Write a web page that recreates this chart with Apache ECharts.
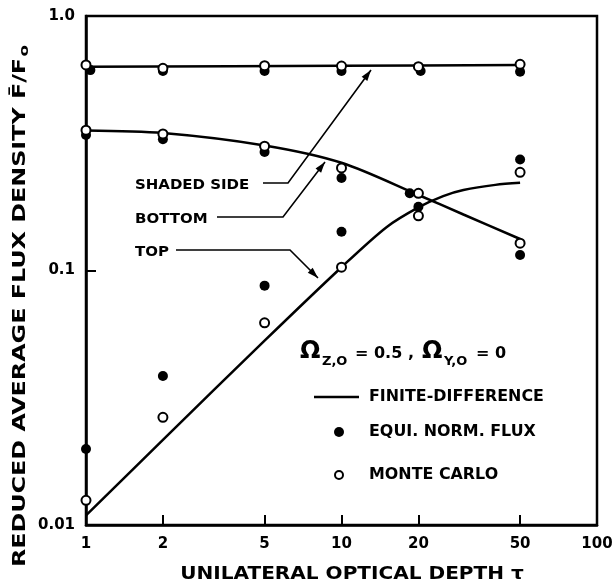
<!DOCTYPE html>
<html>
<head>
<meta charset="utf-8">
<script src="https://cdn.jsdelivr.net/npm/echarts@6/dist/echarts.min.js"></script>
<style>
  html, body { margin: 0; padding: 0; background: #fff; }
  #chart { width: 616px; height: 588px; }
</style>
</head>
<body>
<div id="chart"></div>
<script>
// axis ticks
const tauTicks = [1, 2, 5, 10, 20, 50, 100]
const tauInnerTicks = [2, 5, 10, 20, 50]
const fluxTicks = [0.01, 0.1, 1]
const fluxTickLabels = ["0.01", "0.1", "1.0"]

// finite-difference curves [tau, F/F0]
const shadedFD = [[1, 0.632], [10, 0.637], [50, 0.642]]
const bottomFD = [[1, 0.355], [2, 0.347], [5, 0.31], [10, 0.265], [20, 0.198], [30, 0.166], [50, 0.133]]
const topFD = [[1, 0.0109], [2, 0.0216], [5, 0.053], [10, 0.103], [15, 0.148], [20, 0.177],
  [25, 0.196], [30, 0.207], [40, 0.217], [50, 0.221]]

// equi. norm. flux (filled)
const equiShaded = [[1.04, 0.613], [2, 0.608], [5, 0.608], [10, 0.608], [20.4, 0.608], [50, 0.604]]
const equiBottom = [[1, 0.341], [2, 0.328], [5, 0.292], [10, 0.231], [18.5, 0.201], [50, 0.115]]
const equiTop = [[1, 0.0199], [2, 0.0385], [5, 0.0872], [10, 0.142], [20, 0.178], [50, 0.273]]

// monte carlo (open)
const mcShaded = [[1, 0.642], [2, 0.623], [5, 0.638], [10, 0.636], [20, 0.632], [50, 0.646]]
const mcBottom = [[1, 0.356], [2, 0.344], [5, 0.308], [10, 0.253], [20, 0.201], [50, 0.128]]
const mcTop = [[1, 0.0125], [2, 0.0265], [5, 0.0623], [10, 0.103], [20, 0.164], [50, 0.243]]

const FONT = '"DejaVu Sans", sans-serif'

const chart = echarts.init(document.getElementById("chart"))

function lineSeries(data) {
  return {
    type: "line",
    data: data,
    smooth: 0.3,
    showSymbol: false,
    symbol: "none",
    clip: false,
    z: 2,
    lineStyle: { color: "#000", width: 2.5 }
  }
}

function dotSeries(data, open) {
  return {
    type: "scatter",
    data: data,
    symbol: "circle",
    symbolSize: open ? 9 : 10,
    clip: false,
    z: open ? 4 : 3,
    itemStyle: open
      ? { color: "#fff", borderColor: "#000", borderWidth: 2, opacity: 1 }
      : { color: "#000", opacity: 1 }
  }
}

function label(text, x, y, size, sx, align) {
  return {
    type: "text",
    x: x,
    y: y,
    scaleX: sx || 1,
    style: {
      text: text,
      font: "bold " + size + "px " + FONT,
      fill: "#000",
      align: align || "left",
      verticalAlign: "middle"
    }
  }
}

function leader(points) {
  const n = points.length
  const [x0, y0] = points[n - 2]
  const [x1, y1] = points[n - 1]
  const L = Math.hypot(x1 - x0, y1 - y0)
  const ux = (x1 - x0) / L, uy = (y1 - y0) / L
  const len = 11, hw = 3.5
  const bx = x1 - ux * len, by = y1 - uy * len
  return [
    { type: "polyline", shape: { points: points }, style: { stroke: "#000", lineWidth: 1.6, fill: null } },
    {
      type: "polygon",
      shape: { points: [[x1, y1], [bx - uy * hw, by + ux * hw], [bx + uy * hw, by - ux * hw]] },
      style: { fill: "#000" }
    }
  ]
}

const graphics = [
  // axis titles
  {
    type: "text",
    x: 21, y: 306, rotation: Math.PI / 2,
    scaleX: 1.4,
    style: {
      text: "{a|REDUCED AVERAGE FLUX DENSITY F\u0304/F}{s|o}",
      fill: "#000",
      align: "center",
      verticalAlign: "middle",
      rich: {
        a: { font: "bold 17px " + FONT, lineHeight: 20, verticalAlign: "middle" },
        s: { font: "bold 12px " + FONT, lineHeight: 20, verticalAlign: "bottom", padding: [5, 0, 0, 1] }
      }
    }
  },
  label("UNILATERAL OPTICAL DEPTH \u03c4", 352, 575, 17, 1.18, "center"),

  // curve annotations
  label("SHADED SIDE", 135, 185, 14, 1.07),
  label("BOTTOM", 135, 219, 14, 1.07),
  label("TOP", 135, 252, 14, 1.07),
  ...leader([[263, 183], [288, 183], [371, 70]]),
  ...leader([[217, 217], [283, 217], [325, 162]]),
  ...leader([[176, 250], [290, 250], [318, 278]]),

  // parameters
  label("\u03a9", 300, 352, 24, 1),
  label("Z,O", 322, 362, 13, 1),
  label("= 0.5 ,", 355, 354, 16, 1),
  label("\u03a9", 422, 352, 24, 1),
  label("Y,O", 444, 362, 13, 1),
  label("= 0", 476, 354, 16, 1),

  // legend
  { type: "line", shape: { x1: 314, y1: 397, x2: 359, y2: 397 }, style: { stroke: "#000", lineWidth: 2.5 } },
  label("FINITE-DIFFERENCE", 369, 397, 15, 1.06),
  { type: "circle", shape: { cx: 339, cy: 432, r: 5 }, style: { fill: "#000" } },
  label("EQUI. NORM. FLUX", 369, 432, 15, 1.06),
  { type: "circle", shape: { cx: 339, cy: 475, r: 4 }, style: { fill: "#fff", stroke: "#000", lineWidth: 2 } },
  label("MONTE CARLO", 369, 475, 15, 1.06)
]

const option = {
  backgroundColor: "#fff",
  animation: false,
  grid: {
    left: 86, top: 16, right: 19, bottom: 63,
    show: true, borderColor: "#000", borderWidth: 2.5
  },
  xAxis: {
    type: "log",
    logBase: 10,
    min: 1,
    max: 100,
    axisLine: { show: true, lineStyle: { color: "#000", width: 2.5 } },
    splitLine: { show: false },
    minorTick: { show: false },
    axisTick: {
      show: true, inside: true, length: 10,
      customValues: tauInnerTicks,
      lineStyle: { color: "#000", width: 2 }
    },
    axisLabel: {
      customValues: tauTicks,
      margin: 12,
      color: "#000",
      fontSize: 15,
      fontWeight: "bold",
      fontFamily: FONT,
      formatter: v => String(Math.round(v))
    }
  },
  yAxis: {
    type: "log",
    logBase: 10,
    min: 0.01,
    max: 1,
    axisLine: { show: true, lineStyle: { color: "#000", width: 2.5 } },
    splitLine: { show: false },
    minorTick: { show: false },
    axisTick: {
      show: true, inside: true, length: 10,
      customValues: [0.1],
      lineStyle: { color: "#000", width: 2 }
    },
    axisLabel: {
      customValues: fluxTicks,
      margin: 11,
      color: "#000",
      fontSize: 15,
      fontWeight: "bold",
      fontFamily: FONT,
      formatter: v => fluxTickLabels[fluxTicks.findIndex(t => Math.abs(Math.log10(t) - Math.log10(v)) < 1e-6)]
    }
  },
  series: [
    lineSeries(shadedFD),
    lineSeries(bottomFD),
    lineSeries(topFD),
    dotSeries(equiShaded, false),
    dotSeries(equiBottom, false),
    dotSeries(equiTop, false),
    dotSeries(mcShaded, true),
    dotSeries(mcBottom, true),
    dotSeries(mcTop, true)
  ],
  graphic: graphics
}

chart.setOption(option)
</script>
</body>
</html>
